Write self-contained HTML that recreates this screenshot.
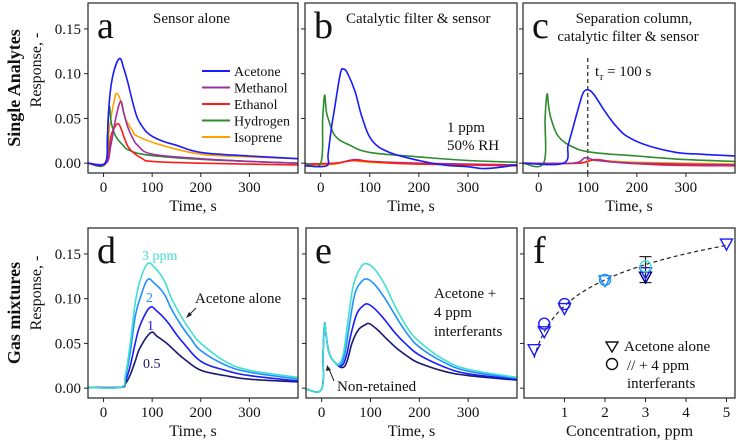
<!DOCTYPE html>
<html><head><meta charset="utf-8">
<style>
html,body{margin:0;padding:0;background:#fff;}
svg{display:block;font-family:"Liberation Serif",serif;}
</style></head>
<body>
<svg id="fig" width="738" height="445" viewBox="0 0 738 445" xmlns="http://www.w3.org/2000/svg"></svg>
<script>
// ---------- data ----------
const xTicks = [0, 100, 200, 300];
const yTicks = [0, 0.05, 0.10, 0.15];
const yTickLabels = ["0.00", "0.05", "0.10", "0.15"];
const fTicks = [1, 2, 3, 4, 5];

// panel a (time s, response)
const aAcetone = [[-32,0],[3,0],[8,0.03],[12,0.07],[20,0.1],[33,0.117],[42,0.105],[50,0.09],[60,0.068],[70,0.05],[85,0.037],[100,0.03],[125,0.024],[150,0.02],[200,0.012],[300,0.008],[400,0.005]];
const aMethanol = [[-32,0],[5,0],[15,0.02],[25,0.05],[35,0.069],[42,0.055],[50,0.04],[60,0.028],[70,0.02],[100,0.01],[200,0.005],[300,0.002],[400,0]];
const aEthanol = [[-32,0],[5,0],[15,0.03],[25,0.042],[30,0.044],[35,0.04],[45,0.025],[55,0.015],[80,0.005],[100,0.002],[200,0],[400,-0.002]];
const aHydrogen = [[-32,0],[5,0],[9,0.045],[12,0.064],[16,0.045],[25,0.03],[40,0.02],[50,0.015],[80,0.01],[150,0.006],[250,0.003],[400,0]];
const aIsoprene = [[-32,0],[3,0],[12,0.04],[22,0.07],[27,0.078],[35,0.07],[45,0.05],[60,0.036],[70,0.03],[120,0.02],[200,0.01],[300,0.007],[400,0.005]];
// panel b
const bAcetone = [[-32,-0.003],[12,-0.003],[15,0.01],[22,0.04],[28,0.06],[40,0.1],[47,0.105],[55,0.1],[70,0.08],[85,0.05],[105,0.025],[140,0.012],[200,0.003],[250,-0.002],[300,-0.004],[330,-0.006],[360,-0.005],[400,-0.002]];
const bMethanol = [[-32,-0.001],[30,0],[70,0.004],[100,0.002],[200,0],[400,-0.002]];
const bEthanol = [[-32,-0.001],[30,0],[70,0.003],[120,0.001],[200,-0.001],[400,-0.003]];
const bHydrogen = [[-32,0],[0,0],[4,0.05],[8,0.076],[11,0.06],[15,0.05],[30,0.03],[60,0.02],[100,0.012],[200,0.007],[300,0.003],[400,0.001]];
const bIsoprene = [[-32,-0.002],[30,-0.001],[60,0.003],[100,0.001],[200,-0.001],[400,-0.002]];
// panel c
const cAcetone = [[-32,0],[50,0],[60,0.02],[70,0.04],[80,0.06],[90,0.078],[98,0.082],[105,0.081],[115,0.075],[130,0.062],[145,0.05],[160,0.04],[180,0.03],[220,0.02],[280,0.012],[330,0.01],[400,0.008]];
const cMethanol = [[-32,0],[70,0],[95,0.006],[120,0.003],[200,0],[400,-0.002]];
const cEthanol = [[-32,0],[80,0],[115,0.004],[160,0.001],[250,-0.002],[400,-0.003]];
const cHydrogen = [[-32,0],[10,0],[13,0.05],[17,0.077],[20,0.065],[25,0.05],[40,0.03],[70,0.018],[110,0.012],[200,0.008],[300,0.004],[400,0.002]];
const cIsoprene = [[-32,0],[80,0],[110,0.003],[200,0.001],[400,-0.001]];
// panel d (acetone alone, 3/2/1/0.5 ppm)
const d3 = [[-32,0.001],[35,0.001],[45,0.015],[55,0.05],[65,0.095],[75,0.12],[90,0.139],[105,0.135],[125,0.12],[140,0.1],[160,0.08],[180,0.063],[200,0.05],[250,0.03],[300,0.02],[400,0.012]];
const d2 = [[-32,0.001],[35,0.001],[45,0.012],[55,0.04],[65,0.08],[75,0.1],[90,0.121],[105,0.117],[125,0.105],[140,0.088],[160,0.07],[180,0.055],[200,0.042],[250,0.026],[300,0.018],[400,0.01]];
const d1 = [[-32,0.001],[35,0.001],[45,0.008],[55,0.025],[65,0.05],[75,0.07],[95,0.09],[110,0.086],[130,0.075],[150,0.06],[165,0.05],[200,0.03],[250,0.02],[300,0.014],[400,0.008]];
const d05 = [[-32,0.001],[35,0.001],[45,0.005],[55,0.015],[65,0.03],[75,0.045],[97,0.062],[110,0.058],[130,0.05],[150,0.04],[165,0.033],[200,0.02],[250,0.014],[300,0.01],[400,0.007]];
// panel e (acetone + 4 ppm interferants)
const e3 = [[-32,-0.001],[0,-0.001],[3,0.04],[6,0.072],[9,0.06],[15,0.04],[25,0.03],[35,0.027],[45,0.04],[55,0.08],[65,0.115],[80,0.135],[93,0.139],[110,0.132],[130,0.115],[150,0.092],[175,0.068],[200,0.052],[250,0.032],[300,0.021],[400,0.012]];
const e2 = [[-32,-0.001],[0,-0.001],[3,0.04],[6,0.072],[9,0.06],[15,0.04],[25,0.03],[38,0.026],[48,0.04],[58,0.075],[68,0.105],[80,0.118],[93,0.122],[110,0.115],[130,0.1],[150,0.082],[175,0.061],[200,0.046],[250,0.029],[300,0.019],[400,0.011]];
const e1 = [[-32,-0.001],[0,-0.001],[3,0.04],[6,0.072],[9,0.06],[15,0.04],[25,0.03],[40,0.025],[50,0.035],[60,0.06],[72,0.083],[85,0.092],[95,0.094],[110,0.088],[130,0.076],[150,0.062],[175,0.048],[200,0.037],[250,0.024],[300,0.016],[400,0.01]];
const e05 = [[-32,-0.001],[0,-0.001],[3,0.04],[6,0.072],[9,0.06],[15,0.04],[25,0.03],[42,0.023],[52,0.03],[62,0.05],[75,0.065],[90,0.071],[98,0.072],[115,0.065],[135,0.054],[155,0.044],[180,0.034],[200,0.028],[250,0.019],[300,0.014],[400,0.009]];
// panel f
const fConcAlone = [0.25, 0.5, 1, 2, 3, 3, 5];
const fRespAlone = [0.043, 0.063, 0.089, 0.120, 0.124, 0.129, 0.161];
const fColorAlone = ["#1a1aff","#1a1aff","#1a1aff","#1e90ff","#000080","#1a1aff","#1a1aff"];
const fConcMix = [0.5, 1, 2, 3];
const fRespMix = [0.072, 0.094, 0.121, 0.136];
const fColorMix = ["#1a1aff","#1a1aff","#1e90ff","#40e0d0"];
const fErrX = [3];
const fErrLo = [0.118];
const fErrHi = [0.147];
const fFitParams = [0.092, 0.042]; // a + b ln(c)

// ---------- layout ----------
const NS = "http://www.w3.org/2000/svg";
const svg = document.getElementById("fig");
const XLIM = [-32, 400], YLIM = [-0.011, 0.179], FXLIM = [0, 5.21];
const rowTop = {y0:3, y1:173}, rowBot = {y0:228, y1:398};
const cols = [{x0:88,x1:298},{x0:305,x1:517},{x0:523,x1:735}];
const colsB = [{x0:88,x1:298},{x0:306,x1:517},{x0:524,x1:735}];

function el(tag, attrs, parent){
  const e = document.createElementNS(NS, tag);
  for (const k in attrs) e.setAttribute(k, attrs[k]);
  (parent || svg).appendChild(e);
  return e;
}
function txt(s, x, y, size, opts, parent){
  const t = el("text", Object.assign({x:x, y:y, "font-size":size, fill:"#111"}, opts||{}), parent);
  t.textContent = s;
  return t;
}
function makePanel(col, row, xlim, name){
  const g = el("g", {});
  
  
  const sx = v => col.x0 + (v - xlim[0]) / (xlim[1] - xlim[0]) * (col.x1 - col.x0);
  const sy = v => row.y1 - (v - YLIM[0]) / (YLIM[1] - YLIM[0]) * (row.y1 - row.y0);
  return {g, sx, sy, col, row};
}
function frame(p){
  const r = el("rect", {x:p.col.x0, y:p.row.y0, width:p.col.x1-p.col.x0, height:p.row.y1-p.row.y0, fill:"none", stroke:"#222", "stroke-width":1.2}, p.g);
  
  
}
function ticks(p, xt, xlabels, yLabelled, xtitle){
  const ax = el("g", {}, p.g);
  
  
  xt.forEach((v,i)=>{
    const x = p.sx(v);
    el("line", {x1:x, x2:x, y1:p.row.y1, y2:p.row.y1+4, stroke:"#222", "stroke-width":1}, ax);
    const t = txt(xlabels[i], x, p.row.y1+19, 15, {"text-anchor":"middle"}, ax);
    
    
  });
  const tt = txt(xtitle, (p.col.x0+p.col.x1)/2, p.row.y1+38, 16, {"text-anchor":"middle"}, ax);
  
  
  const ay = el("g", {}, p.g);
  
  
  yTicks.forEach((v,i)=>{
    const y = p.sy(v);
    el("line", {x1:p.col.x0-4, x2:p.col.x0, y1:y, y2:y, stroke:"#222", "stroke-width":1}, ay);
    if (yLabelled){
      const t = txt(yTickLabels[i], p.col.x0-7, y+5, 15, {"text-anchor":"end"}, ay);
      
      
    }
  });
}
function series(p, pts, color, name, w){
  const P = pts.map(q=>[p.sx(q[0]), p.sy(q[1])]);
  let d = "M" + P[0][0].toFixed(1) + "," + P[0][1].toFixed(1);
  const k = 0.18;
  for (let i=0;i<P.length-1;i++){
    const p0 = P[Math.max(0,i-1)], p1 = P[i], p2 = P[i+1], p3 = P[Math.min(P.length-1,i+2)];
    const c1 = [p1[0]+(p2[0]-p0[0])*k, p1[1]+(p2[1]-p0[1])*k];
    const c2 = [p2[0]-(p3[0]-p1[0])*k, p2[1]-(p3[1]-p1[1])*k];
    d += ` C${c1[0].toFixed(1)},${c1[1].toFixed(1)} ${c2[0].toFixed(1)},${c2[1].toFixed(1)} ${p2[0].toFixed(1)},${p2[1].toFixed(1)}`;
  }
  const path = el("path", {d:d, fill:"none", stroke:color, "stroke-width":w||1.6, "stroke-linejoin":"round"}, p.g);
  
  
}
function letter(p, s){
  const t = txt(s, p.col.x0+9, p.row.y0+35, 38, {}, p.g);
  
  
}
const C = {ace:"#1a1aff", met:"#9b30a0", eth:"#ff1a1a", hyd:"#2e8b2e", iso:"#ffa000",
           p3:"#40e0d0", p2:"#1e90ff", p1:"#1a1aff", p05:"#191970"};
const xLab = xTicks.map(String);

// ---------- panel a ----------
const pa = makePanel(cols[0], rowTop, XLIM, "panel-a");
[["aIsoprene",aIsoprene,C.iso],["aHydrogen",aHydrogen,C.hyd],["aEthanol",aEthanol,C.eth],["aMethanol",aMethanol,C.met],["aAcetone",aAcetone,C.ace]]
 .forEach(s=>series(pa, s[1], s[2], "line-"+s[0].slice(1).toLowerCase()));
frame(pa); ticks(pa, xTicks, xLab, true, "Time, s"); letter(pa, "a");
txt("Sensor alone", 153, 23, 15, {}, pa.g);
const legNames = ["Acetone","Methanol","Ethanol","Hydrogen","Isoprene"];
const legColors = [C.ace,C.met,C.eth,C.hyd,C.iso];
legNames.forEach((n,i)=>{
  const lg = el("g", {}, pa.g);
  
  
  const y = 71 + i*16.5;
  el("line", {x1:202, x2:230, y1:y, y2:y, stroke:legColors[i], "stroke-width":2}, lg);
  txt(n, 234, y+5, 14, {}, lg);
});

// ---------- panel b ----------
const pb = makePanel(cols[1], rowTop, XLIM, "panel-b");
[["isoprene",bIsoprene,C.iso],["methanol",bMethanol,C.met],["ethanol",bEthanol,C.eth],["hydrogen",bHydrogen,C.hyd],["acetone",bAcetone,C.ace]]
 .forEach(s=>series(pb, s[1], s[2], "line-"+s[0]));
frame(pb); ticks(pb, xTicks, xLab, false, "Time, s"); letter(pb, "b");
txt("Catalytic filter & sensor", 346, 23, 15, {}, pb.g);
txt("1 ppm", 447, 132, 15, {}, pb.g);
txt("50% RH", 447, 150, 15, {}, pb.g);

// ---------- panel c ----------
const pc = makePanel(cols[2], rowTop, XLIM, "panel-c");
el("line", {x1:pc.sx(100), x2:pc.sx(100), y1:58, y2:173, stroke:"#222", "stroke-width":1.2, "stroke-dasharray":"4,3"}, pc.g);
[["isoprene",cIsoprene,C.iso],["ethanol",cEthanol,C.eth],["methanol",cMethanol,C.met],["hydrogen",cHydrogen,C.hyd],["acetone",cAcetone,C.ace]]
 .forEach(s=>series(pc, s[1], s[2], "line-"+s[0]));
frame(pc); ticks(pc, xTicks, xLab, false, "Time, s"); letter(pc, "c");
txt("Separation column,", 634, 23, 15, {"text-anchor":"middle"}, pc.g);
txt("catalytic filter & sensor", 628, 41, 15, {"text-anchor":"middle"}, pc.g);
txt("t", 595, 76, 15, {}, pc.g);
txt("r", 600, 80, 10, {}, pc.g);
txt("= 100 s", 607, 76, 15, {}, pc.g);

// ---------- panel d ----------
const pd = makePanel(colsB[0], rowBot, XLIM, "panel-d");
[["0-5ppm",d05,C.p05],["1ppm",d1,C.p1],["2ppm",d2,C.p2],["3ppm",d3,C.p3]].forEach(s=>series(pd, s[1], s[2], "line-"+s[0]));
frame(pd); ticks(pd, xTicks, xLab, true, "Time, s"); letter(pd, "d");
txt("3 ppm", 142, 260, 14, {fill:C.p3}, pd.g);
txt("2", 146, 302, 14, {fill:C.p2}, pd.g);
txt("1", 147, 330, 14, {fill:C.p1}, pd.g);
txt("0.5", 143, 368, 14, {fill:C.p05}, pd.g);
txt("Acetone alone", 195, 303, 15, {}, pd.g);
el("line", {x1:196, x2:189, y1:308, y2:315, stroke:"#222", "stroke-width":1}, pd.g);
el("path", {d:"M186,318 L192,315 L189,312 Z", fill:"#222"}, pd.g);

// ---------- panel e ----------
const pe = makePanel(colsB[1], rowBot, XLIM, "panel-e");
[["0-5ppm",e05,C.p05],["1ppm",e1,C.p1],["2ppm",e2,C.p2],["3ppm",e3,C.p3]].forEach(s=>series(pe, s[1], s[2], "line-"+s[0]));
frame(pe); ticks(pe, xTicks, xLab, false, "Time, s"); letter(pe, "e");
txt("Acetone +", 434, 298, 15, {}, pe.g);
txt("4 ppm", 434, 317, 15, {}, pe.g);
txt("interferants", 434, 336, 15, {}, pe.g);
txt("Non-retained", 337, 391, 15, {}, pe.g);
el("line", {x1:334, x2:329, y1:381, y2:369, stroke:"#222", "stroke-width":1}, pe.g);
el("path", {d:"M327,365 L326,371 L331,370 Z", fill:"#222"}, pe.g);

// ---------- panel f ----------
const pf = makePanel(colsB[2], rowBot, FXLIM, "panel-f");
let fd = "";
for (let i=0;i<=60;i++){ const c = 0.25 + (5-0.25)*i/60; const v = fFitParams[0] + fFitParams[1]*Math.log(c);
  fd += (i?"L":"M") + pf.sx(c).toFixed(1) + "," + pf.sy(v).toFixed(1) + " "; }
const fit = el("path", {d:fd, fill:"none", stroke:"#222", "stroke-width":1.2, "stroke-dasharray":"4,3"}, pf.g);


fErrX.forEach((c,i)=>{
  const x = pf.sx(c), y1 = pf.sy(fErrLo[i]), y2 = pf.sy(fErrHi[i]);
  const eb = el("g", {stroke:"#222", "stroke-width":1.2}, pf.g);
  
  
  el("line", {x1:x, x2:x, y1:y1, y2:y2}, eb);
  el("line", {x1:x-6, x2:x+6, y1:y1, y2:y1}, eb);
  el("line", {x1:x-6, x2:x+6, y1:y2, y2:y2}, eb);
});
fConcAlone.forEach((c,i)=>{
  const x = pf.sx(c), y = pf.sy(fRespAlone[i]);
  const m = el("path", {d:`M${x-6},${y-5} L${x+6},${y-5} L${x},${y+6} Z`, fill:"none", stroke:fColorAlone[i], "stroke-width":1.4}, pf.g);
  
  
});
fConcMix.forEach((c,i)=>{
  const m = el("circle", {cx:pf.sx(c), cy:pf.sy(fRespMix[i]), r:5.5, fill:"none", stroke:fColorMix[i], "stroke-width":1.4}, pf.g);
  
  
});
frame(pf); ticks(pf, fTicks, fTicks.map(String), false, "Concentration, ppm"); letter(pf, "f");
const fl1 = el("g", {}, pf.g);


el("path", {d:"M606,342 L618,342 L612,352 Z", fill:"none", stroke:"#111", "stroke-width":1.4}, fl1);
txt("Acetone alone", 624, 351, 15, {}, fl1);
const fl2 = el("g", {}, pf.g);


el("circle", {cx:612, cy:364, r:5.5, fill:"none", stroke:"#111", "stroke-width":1.4}, fl2);
txt("// + 4 ppm", 627, 370, 15, {}, fl2);
txt("interferants", 627, 388, 15, {}, fl2);

// ---------- row / y titles ----------
function rot(s, x, y, size, weight, name){
  const t = txt(s, x, y, size, {"text-anchor":"middle", "font-weight":weight, transform:`rotate(-90 ${x} ${y})`});
  
  
}
rot("Single Analytes", 20, 88, 18, "bold", "row-title-single-analytes");
rot("Gas mixtures", 20, 313, 18, "bold", "row-title-gas-mixtures");
rot("Response, -", 41, 70, 16, "normal", "y-axis-title-top");
rot("Response, -", 41, 293, 16, "normal", "y-axis-title-bottom");
</script>
</body></html>
